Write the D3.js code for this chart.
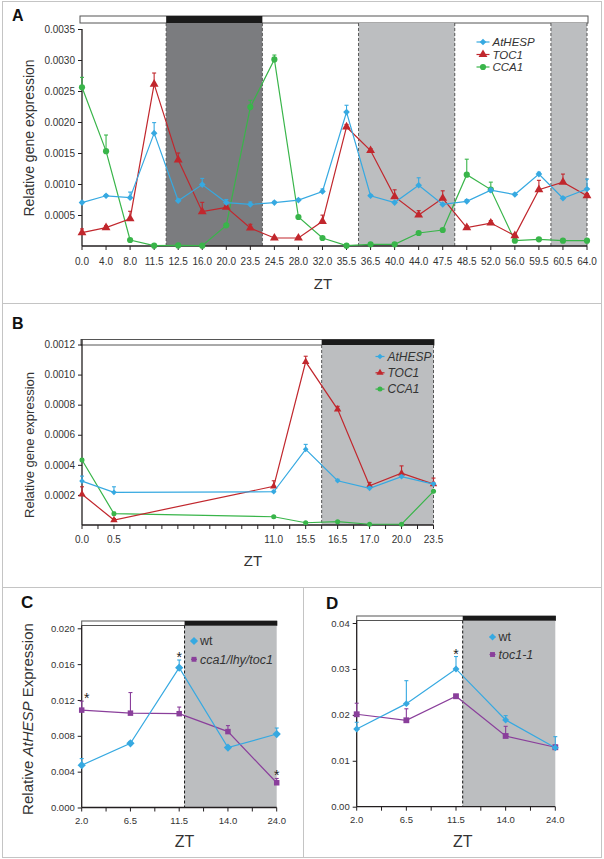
<!DOCTYPE html>
<html><head><meta charset="utf-8">
<script src="https://cdn.jsdelivr.net/npm/d3@7"></script>
<style>body{margin:0;background:#fff}svg{display:block;font-family:"Liberation Sans",Arial,Helvetica,sans-serif}</style>
</head><body><script>
// ---------------- DATA ----------------
// Panel A
const catsA=["0.0","4.0","8.0","11.5","12.5","16.0","20.0","23.5","24.5","28.0","32.0","35.5","36.5","40.0","44.0","47.5","48.5","52.0","56.0","59.5","60.5","64.0"];
const hespA=[0.00070,0.00081,0.00078,0.00182,0.00073,0.00099,0.00070,0.00067,0.00070,0.00074,0.00088,0.00216,0.00081,0.00070,0.00098,0.00067,0.00072,0.00090,0.00083,0.00116,0.00077,0.00092];
const hespAErr=[0.00002,0.00002,0.00009,0.00017,0.00003,0.00010,0.00005,0.00004,0.00002,0.00002,0.00004,0.00011,0.00002,0.00002,0.00012,0.00002,0.00003,0.00003,0.00002,0.00003,0.00002,0.00016];
const toc1A=[0.000215,0.000296,0.00044,0.00261,0.00139,0.000554,0.000624,0.00029,0.000129,0.000129,0.000398,0.00192,0.00154,0.000796,0.0005,0.00077,0.000296,0.00037,0.000167,0.000909,0.00103,0.000812];
const toc1AErr=[0.00006,0.00003,0.00012,0.00018,0.00011,0.00015,0.00003,0.00006,0.00002,0.00002,0.0001,0.00004,0.00003,0.00011,0.00007,0.00012,0.00003,0.00004,0.00003,0.00015,0.00013,0.00003];
const cca1A=[0.00256,0.00153,0.000097,0.000005,0.00001,0.000005,0.000333,0.00224,0.00301,0.000468,0.000129,0.000005,0.000027,0.000027,0.00021,0.000258,0.00115,0.00091,0.000086,0.000108,0.000086,0.000086];
const cca1AErr=[0.00016,0.00026,0,0,0,0,0.00002,0.00011,0.00007,0.00002,0,0,0,0,0.00001,0.00001,0.00025,0.00012,0,0.00001,0,0];
const yTicksA=[0.0005,0.0010,0.0015,0.0020,0.0025,0.0030,0.0035];
const nightA=[["12.5","23.5",true],["36.5","47.5",false],["60.5","64.0",false]]; // [from,to,barBlack]

// Panel B (empty labels are unlabeled category slots)
const catsB=["0.0","0.5","","","","","11.0","15.5","16.5","17.0","20.0","23.5"];
const hespB=[0.000292,0.000217,null,null,null,null,0.000221,0.000503,0.000294,0.000244,0.000321,0.000272];
const hespBErr=[0.000033,0.000037,0,0,0,0,0.00001,0.000033,0.00001,0.00001,0.00001,0.00001];
const toc1B=[0.000204,0.000033,null,null,null,null,0.000257,0.001085,0.000769,0.000261,0.000344,0.000272];
const toc1BErr=[0.00005,0.00001,0,0,0,0,0.000037,0.000037,0.00002,0.000022,0.000049,0.00004];
const cca1B=[0.000432,0.000075,null,null,null,null,0.000055,0.000015,0.000022,0.000005,0.000005,0.000224];
const cca1BErr=[0.00001,0.00001,0,0,0,0,0.000005,0.000005,0.000005,0,0,0.000005];
const yTicksB=[0.0002,0.0004,0.0006,0.0008,0.0010,0.0012];
const nightB=["16.5","23.5"];

// Panel C
const catsC=["2.0","6.5","11.5","14.0","24.0"];
const wtC=[0.00472,0.00717,0.01561,0.00669,0.0082];
const wtCErr=[0.00074,0.0002,0.00085,0.0002,0.00067];
const mutC=[0.01087,0.01053,0.01047,0.00847,0.00276];
const mutCErr=[0.001,0.0023,0.00074,0.00067,0.00048];
const starsC=[["mut",0],["wt",2],["mut",4]];
const yTicksC=[0,0.004,0.008,0.012,0.016,0.020];

// Panel D
const catsD=["2.0","6.5","11.5","14.0","24.0"];
const wtD=[0.01693,0.02244,0.030,0.01889,0.01285];
const wtDErr=[0.00145,0.005,0.0027,0.00094,0.0024];
const mutD=[0.02013,0.01882,0.02405,0.0154,0.01294];
const mutDErr=[0.0024,0.0025,0.0004,0.0021,0.0005];
const starsD=[["wt",2]];
const yTicksD=[0,0.01,0.02,0.03,0.04];

// ---------------- STYLE ----------------
const BLUE="#36a9e1",RED="#c1272d",GREEN="#39b54a",PURPLE="#8a3f9b";
const LIGHT="#bcbec0",DARK="#7b7c7f",AX="#231f20",TXT="#333";

const diamond={draw(ctx,size){const r=Math.sqrt(size/2);ctx.moveTo(0,-r);ctx.lineTo(r,0);ctx.lineTo(0,r);ctx.lineTo(-r,0);ctx.closePath();}};

const svg=d3.select("body").append("svg").attr("width",604).attr("height",859);

// panel frames
const fr=svg.append("g").attr("stroke","#c4c4c4").attr("fill","none").attr("stroke-width",1);
fr.append("rect").attr("x",2.5).attr("y",1.5).attr("width",599).attr("height",856);
fr.append("line").attr("x1",2).attr("x2",602).attr("y1",303.5).attr("y2",303.5);
fr.append("line").attr("x1",2).attr("x2",602).attr("y1",587.5).attr("y2",587.5);
fr.append("line").attr("x1",303.5).attr("x2",303.5).attr("y1",587).attr("y2",858);

function series(g,x,y,keys,vals,errs,color,sym,size,lw){
  const pts=keys.map((k,i)=>({k,v:vals[i],e:errs?errs[i]:0})).filter(d=>d.v!=null);
  g.append("path").datum(pts).attr("fill","none").attr("stroke",color).attr("stroke-width",lw||1.2)
    .attr("d",d3.line().x(d=>x(d.k)).y(d=>y(d.v)));
  const eb=g.append("g").attr("stroke",color).attr("stroke-width",1.1);
  pts.filter(d=>d.e>0).forEach(d=>{
    const X=x(d.k),Y0=y(d.v),Y1=y(d.v+d.e);
    eb.append("line").attr("x1",X).attr("x2",X).attr("y1",Y0).attr("y2",Y1);
    eb.append("line").attr("x1",X-2).attr("x2",X+2).attr("y1",Y1).attr("y2",Y1);
  });
  g.append("g").selectAll("path").data(pts).join("path")
    .attr("transform",d=>`translate(${x(d.k)},${y(d.v)})`)
    .attr("d",d3.symbol(sym,size)).attr("fill",color);
}
function yAxis(g,y,x0,ticks,fmt,fs,top,bottom){
  const a=g.append("g").attr("transform",`translate(${x0},0)`)
    .call(d3.axisLeft(y).tickValues(ticks).tickFormat(fmt).tickSize(4).tickPadding(3));
  a.select(".domain").remove();
  a.selectAll("line").attr("stroke",AX);
  a.selectAll("text").attr("font-size",fs).attr("fill",TXT).attr("font-family","Liberation Sans, Arial, sans-serif");
  g.append("line").attr("x1",x0).attr("x2",x0).attr("y1",top).attr("y2",bottom).attr("stroke",AX).attr("stroke-width",1.3);
}
function xAxisTicks(g,positions,y0,len){
  g.append("g").selectAll("line").data(positions).join("line")
   .attr("x1",d=>d).attr("x2",d=>d).attr("y1",y0).attr("y2",y0+len).attr("stroke",AX);
}
function legend(g,items,x,y0,dy,fs,lineHalf){
  items.forEach((it,i)=>{
    const yy=y0+i*dy;
    if(lineHalf>0) g.append("line").attr("x1",x-lineHalf).attr("x2",x+lineHalf).attr("y1",yy).attr("y2",yy).attr("stroke",it.c).attr("stroke-width",1.2);
    g.append("path").attr("transform",`translate(${x},${yy})`).attr("d",d3.symbol(it.s,it.z)).attr("fill",it.c);
    g.append("text").attr("x",x+lineHalf+3+(lineHalf?0:4)).attr("y",yy).attr("dy","0.35em").attr("font-size",fs)
     .attr("font-style",it.i?"italic":"normal").attr("fill",TXT).text(it.t);
  });
}
function dashed(g,X,y1,y2){
  g.append("line").attr("x1",X).attr("x2",X).attr("y1",y1).attr("y2",y2).attr("stroke","#555").attr("stroke-width",1).attr("stroke-dasharray","3,2");
}
function bar(g,x1,x2,xb,y,h){
  g.append("rect").attr("x",x1).attr("y",y).attr("width",x2-x1).attr("height",h).attr("fill","#fff").attr("stroke","#555").attr("stroke-width",1);
}

// ---------------- PANEL A ----------------
{
  const g=svg.append("g");
  const x=d3.scalePoint().domain(catsA).range([82,587]);
  const y=d3.scaleLinear().domain([0,0.0035]).range([246,29]);
  const st=x.step(), top=23, base=y(0);
  bar(g,80,588,0,16,7);
  nightA.forEach(([f,t,blk])=>{
    const x1=x(f)-st/2, x2=Math.min(x(t)+st/2,587);
    g.append("rect").attr("x",x1).attr("y",top).attr("width",x2-x1).attr("height",base-top).attr("fill",blk?DARK:LIGHT);
    if(blk) g.append("rect").attr("x",x1).attr("y",16).attr("width",x2-x1).attr("height",7).attr("fill","#1a1a1a");
    dashed(g,x1,top,base); dashed(g,x2,top,base);
  });
  yAxis(g,y,82,yTicksA,d3.format(".4f"),10,29,base);
  g.append("line").attr("x1",82).attr("x2",587).attr("y1",base).attr("y2",base).attr("stroke",AX).attr("stroke-width",1.3);
  xAxisTicks(g,catsA.map(c=>x(c)),base,4);
  g.append("g").selectAll("text").data(catsA).join("text").attr("x",d=>x(d)).attr("y",265)
    .attr("text-anchor","middle").attr("font-size",10).attr("fill",TXT).text(d=>d);
  series(g,x,y,catsA,cca1A,cca1AErr,GREEN,d3.symbolCircle,30);
  series(g,x,y,catsA,toc1A,toc1AErr,RED,d3.symbolTriangle,34);
  series(g,x,y,catsA,hespA,hespAErr,BLUE,diamond,22);
  legend(g,[{t:"AtHESP",c:BLUE,s:diamond,z:22,i:1},{t:"TOC1",c:RED,s:d3.symbolTriangle,z:34,i:1},{t:"CCA1",c:GREEN,s:d3.symbolCircle,z:30,i:1}],483,42,12.5,11.5,6.5);
  g.append("text").attr("transform","translate(34,138) rotate(-90)").attr("text-anchor","middle").attr("font-size",14).attr("fill",TXT).text("Relative gene expression");
  g.append("text").attr("x",323).attr("y",289).attr("text-anchor","middle").attr("font-size",15).attr("fill",TXT).text("ZT");
  g.append("text").attr("x",12).attr("y",21).attr("font-size",16).attr("font-weight","bold").attr("fill","#111").text("A");
}

// ---------------- PANEL B ----------------
{
  const g=svg.append("g");
  const x=d3.scalePoint().domain(d3.range(catsB.length)).range([82,433.5]);
  const y=d3.scaleLinear().domain([0,0.0012]).range([525,344.5]);
  const st=x.step(), top=345, base=y(0);
  const xi=c=>x(catsB.indexOf(c));
  bar(g,81,434,0,339.5,5.5);
  const x1=xi(nightB[0])-st/2, x2=xi(nightB[1]);
  g.append("rect").attr("x",x1).attr("y",top).attr("width",x2-x1).attr("height",base-top).attr("fill",LIGHT);
  g.append("rect").attr("x",x1).attr("y",339.5).attr("width",x2-x1+0.5).attr("height",5.5).attr("fill","#1a1a1a");
  dashed(g,x1,top,base); dashed(g,x2,top,base);
  yAxis(g,y,82,yTicksB,d3.format(".4f"),10,339.5,base);
  g.append("line").attr("x1",82).attr("x2",433.5).attr("y1",base).attr("y2",base).attr("stroke",AX).attr("stroke-width",1.3);
  const half=d3.range(0,catsB.length-0.5,0.5).map(i=>82+i*st);
  xAxisTicks(g,half,base,4);
  g.append("g").selectAll("text").data(catsB.map((c,i)=>({c,i})).filter(d=>d.c)).join("text").attr("x",d=>x(d.i)).attr("y",543)
    .attr("text-anchor","middle").attr("font-size",10).attr("fill",TXT).text(d=>d.c);
  const idx=d3.range(catsB.length);
  series(g,x,y,idx,cca1B,cca1BErr,GREEN,d3.symbolCircle,20,1.2);
  series(g,x,y,idx,toc1B,toc1BErr,RED,d3.symbolTriangle,24,1.2);
  series(g,x,y,idx,hespB,hespBErr,BLUE,diamond,16,1.2);
  legend(g,[{t:"AtHESP",c:BLUE,s:diamond,z:16,i:1},{t:"TOC1",c:RED,s:d3.symbolTriangle,z:22,i:1},{t:"CCA1",c:GREEN,s:d3.symbolCircle,z:20,i:1}],380,356.5,16.3,12,4.5);
  g.append("text").attr("transform","translate(34,445) rotate(-90)").attr("text-anchor","middle").attr("font-size",13).attr("fill",TXT).text("Relative gene expression");
  g.append("text").attr("x",253).attr("y",566).attr("text-anchor","middle").attr("font-size",15).attr("fill",TXT).text("ZT");
  g.append("text").attr("x",12).attr("y",329).attr("font-size",16).attr("font-weight","bold").attr("fill","#111").text("B");
}

// ---------------- PANELS C & D ----------------
function panelCD(o){
  const g=svg.append("g");
  const x=d3.scalePoint().domain(o.cats).range([o.x0,o.x1]);
  const y=d3.scaleLinear().domain([0,o.ymax]).range([o.base,o.ytop]);
  const st=x.step(), base=o.base;
  bar(g,o.x0,o.x1,0,o.barY,4.5);
  const xn=x(o.cats[2])+st*o.nightOff;
  g.append("rect").attr("x",xn).attr("y",o.barY+4.5).attr("width",o.x1-xn).attr("height",base-o.barY-4.5).attr("fill",LIGHT);
  g.append("rect").attr("x",xn).attr("y",o.barY).attr("width",o.x1-xn+0.5).attr("height",4.5).attr("fill","#1a1a1a");
  g.append("line").attr("x1",xn).attr("x2",xn).attr("y1",o.barY+4.5).attr("y2",base).attr("stroke","#111").attr("stroke-width",1).attr("stroke-dasharray","3,2");
  yAxis(g,y,o.x0,o.yTicks,d3.format(o.fmt),9.5,o.barY+4.5,base);
  g.append("line").attr("x1",o.x0).attr("x2",o.x1).attr("y1",base).attr("y2",base).attr("stroke",AX).attr("stroke-width",1.3);
  xAxisTicks(g,d3.range(0,o.cats.length-0.5,0.5).map(i=>o.x0+i*st),base,4);
  g.append("g").selectAll("text").data(o.cats).join("text").attr("x",d=>x(d)).attr("y",base+16.5)
    .attr("text-anchor","middle").attr("font-size",9.5).attr("fill",TXT).text(d=>d);
  series(g,x,y,o.cats,o.mut,o.mutErr,PURPLE,d3.symbolSquare,o.sqSize,1.2);
  series(g,x,y,o.cats,o.wt,o.wtErr,BLUE,diamond,o.dSize,1.2);
  o.stars.forEach(([s,i])=>{
    const v=s==="wt"?o.wt[i]+o.wtErr[i]:o.mut[i]+o.mutErr[i];
    g.append("text").attr("x",x(o.cats[i])+(i===0?5:0)).attr("y",y(v)+2).attr("text-anchor","middle")
      .attr("font-size",14).attr("fill","#222").text("*");
  });
  legend(g,[{t:"wt",c:BLUE,s:diamond,z:o.dSize,i:0},{t:o.mutName,c:PURPLE,s:d3.symbolSquare,z:24,i:1}],o.legX,o.legY,o.legDy,12.5,3);
  g.append("text").attr("x",o.labX).attr("y",o.labY).attr("font-size",17).attr("font-weight","bold").attr("fill","#111").text(o.lab);
  g.append("text").attr("x",xn).attr("y",847).attr("text-anchor","middle").attr("font-size",16).attr("fill",TXT).text("ZT");
  return g;
}
const gC=panelCD({cats:catsC,wt:wtC,wtErr:wtCErr,mut:mutC,mutErr:mutCErr,stars:starsC,yTicks:yTicksC,fmt:".3f",
  x0:81.7,x1:276.7,ymax:0.020,base:807.5,ytop:628.3,barY:621,nightOff:0.11,sqSize:30,dSize:34,
  mutName:"cca1/lhy/toc1",legX:194,legY:641,legDy:18.3,lab:"C",labX:21,labY:608});
const tC=gC.append("text").attr("transform","translate(33,719) rotate(-90)").attr("text-anchor","middle").attr("font-size",15).attr("fill",TXT);
tC.append("tspan").text("Relative ");
tC.append("tspan").attr("font-style","italic").text("AtHESP");
tC.append("tspan").text(" Expression");
panelCD({cats:catsD,wt:wtD,wtErr:wtDErr,mut:mutD,mutErr:mutDErr,stars:starsD,yTicks:yTicksD,fmt:".2f",
  x0:356.7,x1:555.3,ymax:0.04,base:806.7,ytop:623,barY:616,nightOff:0.135,sqSize:34,dSize:24,
  mutName:"toc1-1",legX:492.5,legY:637,legDy:17.5,lab:"D",labX:326,labY:609});
</script></body></html>
